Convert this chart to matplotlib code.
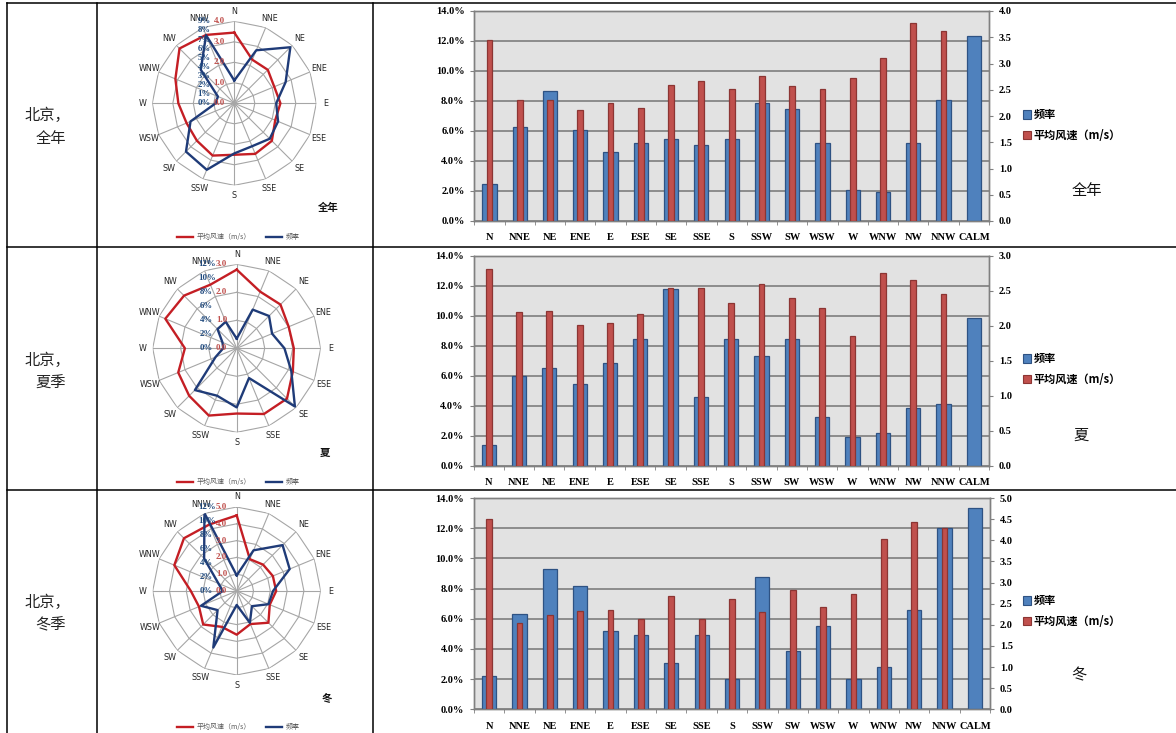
import numpy as np
import matplotlib
matplotlib.use("Agg")
import matplotlib.pyplot as plt
from matplotlib import transforms
from matplotlib.patches import Patch
from matplotlib.font_manager import FontProperties
from matplotlib.ticker import FuncFormatter, FixedLocator

# ---------------- data ----------------
directions = ['N', 'NNE', 'NE', 'ENE', 'E', 'ESE', 'SE', 'SSE', 'S', 'SSW',
              'SW', 'WSW', 'W', 'WNW', 'NW', 'NNW']
categories = directions + ['CALM']

freq_annual = [2.5, 6.3, 8.7, 6.1, 4.6, 5.2, 5.5, 5.1, 5.5, 7.9, 7.5, 5.2, 2.05, 1.95, 5.2, 8.1, 12.3]
speed_annual = [3.45, 2.30, 2.31, 2.11, 2.25, 2.16, 2.59, 2.67, 2.51, 2.76, 2.58, 2.52, 2.73, 3.11, 3.78, 3.61]

freq_summer = [1.38, 5.98, 6.53, 5.47, 6.82, 8.44, 11.76, 4.6, 8.44, 7.33, 8.44, 3.27, 1.93, 2.2, 3.87, 4.11, 9.82]
speed_summer = [2.81, 2.19, 2.21, 2.01, 2.04, 2.17, 2.54, 2.54, 2.33, 2.60, 2.40, 2.26, 1.85, 2.76, 2.66, 2.46]

freq_winter = [2.23, 6.29, 9.27, 8.19, 5.19, 4.92, 3.07, 4.92, 1.99, 8.74, 3.86, 5.52, 1.99, 2.83, 6.58, 12.03, 13.36]
speed_winter = [4.50, 2.05, 2.22, 2.33, 2.35, 2.13, 2.67, 2.13, 2.60, 2.31, 2.82, 2.43, 2.73, 4.02, 4.44, 4.28]

row_titles = [('北京，', '全年'), ('北京，', '夏季'), ('北京，', '冬季')]
season_short = ['全年', '夏', '冬']
legend_labels = ['频率', '平均风速（m/s）']
radar_legend_labels = ['平均风速（m/s）', '频率']

# radar scale settings
radar_freq_max = [9, 12, 12]
radar_freq_step = [1, 2, 2]
radar_speed_max = [4.0, 3.0, 5.0]
bar_speed_max = [4.0, 3.0, 5.0]

# ---------------- styling ----------------
W, H = 1176, 733
CJK = ['Noto Sans CJK SC', 'DejaVu Sans']
SERIF = ['Liberation Serif', 'DejaVu Serif']
BLUE = '#4F81BD'
BLUE_E = '#2E5283'
RED = '#C0504D'
RED_E = '#8C3533'
R_LINE = '#C41E24'
B_LINE = '#1F3B78'

fig = plt.figure(figsize=(W / 100, H / 100), dpi=100)


def rect(x0, y0, x1, y1):
    return [x0 / W, 1 - y1 / H, (x1 - x0) / W, (y1 - y0) / H]


def tick_fp():
    return FontProperties(family=SERIF, weight='bold', size=7.5)


# background / table
bg = fig.add_axes([0, 0, 1, 1])
bg.set_xlim(0, W)
bg.set_ylim(H, 0)
bg.axis('off')
for yy in [3, 246.5, 490]:
    bg.plot([7, W], [yy, yy], color='black', lw=1.1)
for xx in [7, 97, 373]:
    bg.plot([xx, xx], [3, H], color='black', lw=1.1)

title_y = [(115, 138), (360, 383), (602, 625)]
for i in range(3):
    l1, l2 = row_titles[i]
    bg.text(47, title_y[i][0], l1, family=CJK, fontsize=11, ha='center', va='center', color='#222222')
    bg.text(51, title_y[i][1], l2, family=CJK, fontsize=11, ha='center', va='center', color='#222222')

# ---------------- radar charts ----------------
radar_centers = [(234.3, 103.3, 82), (236.7, 348.3, 84), (236.7, 591.0, 84)]
radar_season_pos = [(328, 208), (325, 453), (327, 698)]
radar_legend_y = [237, 482, 727]
freqs = [freq_annual, freq_summer, freq_winter]
speeds = [speed_annual, speed_summer, speed_winter]

theta = np.arange(16) * 2 * np.pi / 16
for k in range(3):
    cx, cy, R = radar_centers[k]
    ax = fig.add_axes(rect(cx - R, cy - R, cx + R, cy + R), projection='polar')
    ax.set_theta_zero_location('N')
    ax.set_theta_direction(-1)
    ax.set_ylim(0, 1)
    ax.axis('off')
    smax = radar_speed_max[k]
    fmax = radar_freq_max[k]
    tc = np.append(theta, theta[0])
    for lev in np.arange(1, smax + 0.01, 1.0):
        ax.plot(tc, np.full(17, lev / smax), color='#A6A6A6', lw=0.8, zorder=1)
    for t in theta:
        ax.plot([t, t], [0, 1], color='#A6A6A6', lw=0.8, zorder=1)
    for t, d in zip(theta, directions):
        ax.text(t, 1.12, d, ha='center', va='center', fontsize=5.8,
                color='#262626', family=['DejaVu Sans'], clip_on=False)
    sp = np.array(speeds[k])
    fr = np.array(freqs[k][:16])
    lr, = ax.plot(tc, np.append(sp, sp[0]) / smax, color=R_LINE, lw=1.7, zorder=3)
    lb, = ax.plot(tc, np.append(fr, fr[0]) / fmax, color=B_LINE, lw=1.7, zorder=4)
    tr_red = transforms.offset_copy(ax.transData, fig=fig, x=-15, y=0, units='dots')
    tr_blue = transforms.offset_copy(ax.transData, fig=fig, x=-30, y=0, units='dots')
    for lev in np.arange(0, smax + 0.01, 1.0):
        ax.text(0, lev / smax, f'{lev:.1f}', transform=tr_red, ha='center', va='center',
                fontsize=6.5, color='#C0504D', fontweight='bold', family=SERIF, zorder=5)
    for f in np.arange(0, fmax + 0.01, radar_freq_step[k]):
        ax.text(0, f / fmax, f'{int(f)}%', transform=tr_blue, ha='center', va='center',
                fontsize=6.3, color='#1F497D', fontweight='bold', family=SERIF, zorder=5)
    sx, sy = radar_season_pos[k]
    bg.text(sx, sy, season_short[k], family=CJK, fontsize=7.5, fontweight='bold',
            ha='center', va='center', color='#111111')
    leg = fig.legend([lr, lb], radar_legend_labels, loc='center',
                     bbox_to_anchor=(238 / W, 1 - radar_legend_y[k] / H), ncol=2,
                     frameon=False, prop={'family': CJK, 'size': 5},
                     handlelength=2.4, columnspacing=2.2, handletextpad=0.4,
                     borderpad=0, borderaxespad=0)
    for t in leg.get_texts():
        t.set_color('#595959')

# ---------------- bar charts ----------------
bar_rects = [(474.3, 11, 989, 221), (473.5, 255.7, 989, 465.7), (474, 498, 990, 709.3)]
bar_legend_y = [125, 369, 611]
bar_season_pos = [(1087, 190), (1081, 435), (1079, 675)]
x = np.arange(len(categories))

for k in range(3):
    x0, y0, x1, y1 = bar_rects[k]
    ax = fig.add_axes(rect(x0, y0, x1, y1))
    ax.set_facecolor('#E2E2E2')
    ax.bar(x, np.array(freqs[k]) / 100, width=0.47, color=BLUE, edgecolor=BLUE_E,
           linewidth=0.9, zorder=3)
    ax.set_xlim(-0.5, len(categories) - 0.5)
    ax.set_ylim(0, 0.14)
    ax.set_yticks(np.arange(0, 0.1401, 0.02))
    ax.yaxis.set_major_formatter(FuncFormatter(lambda v, p: f'{v * 100:.1f}%'))
    ax.grid(axis='y', color='#858585', lw=1.3, zorder=1)
    ax.set_axisbelow(True)
    ax.set_xticks(x)
    ax.set_xticklabels(categories)
    ax.xaxis.set_minor_locator(FixedLocator(np.arange(-0.5, len(categories), 1.0)))
    ax.tick_params(axis='x', which='major', length=0, pad=9)
    ax.tick_params(axis='x', which='minor', length=3, color='#808080')
    ax.tick_params(axis='y', length=3, color='#808080', pad=4)
    for lab in ax.get_xticklabels() + ax.get_yticklabels():
        lab.set_fontproperties(tick_fp())
    for s in ax.spines.values():
        s.set_color('#808080')
        s.set_linewidth(1.0)

    ax2 = ax.twinx()
    ax2.bar(x[:16], speeds[k], width=0.19, color=RED, edgecolor=RED_E, linewidth=0.9, zorder=3)
    smax = bar_speed_max[k]
    ax2.set_ylim(0, smax)
    ax2.set_yticks(np.arange(0, smax + 0.01, 0.5))
    ax2.yaxis.set_major_formatter(FuncFormatter(lambda v, p: f'{v:.1f}'))
    ax2.tick_params(axis='y', length=3, color='#808080', pad=4)
    for lab in ax2.get_yticklabels():
        lab.set_fontproperties(tick_fp())
    for s in ax2.spines.values():
        s.set_color('#808080')
        s.set_linewidth(1.0)

    handles = [Patch(facecolor=BLUE, edgecolor=BLUE_E, linewidth=0.8),
               Patch(facecolor=RED, edgecolor=RED_E, linewidth=0.8)]
    fig.legend(handles, legend_labels, loc='center left',
               bbox_to_anchor=(1023 / W, 1 - bar_legend_y[k] / H), frameon=False,
               prop={'family': CJK, 'size': 8, 'weight': 'bold'},
               handlelength=0.75, handleheight=0.75, handletextpad=0.2,
               labelspacing=0.65, borderpad=0, borderaxespad=0)
    sx, sy = bar_season_pos[k]
    bg.text(sx, sy, season_short[k], family=CJK, fontsize=11, ha='center', va='center',
            color='#111111')

fig.savefig('out.png', dpi=100)
